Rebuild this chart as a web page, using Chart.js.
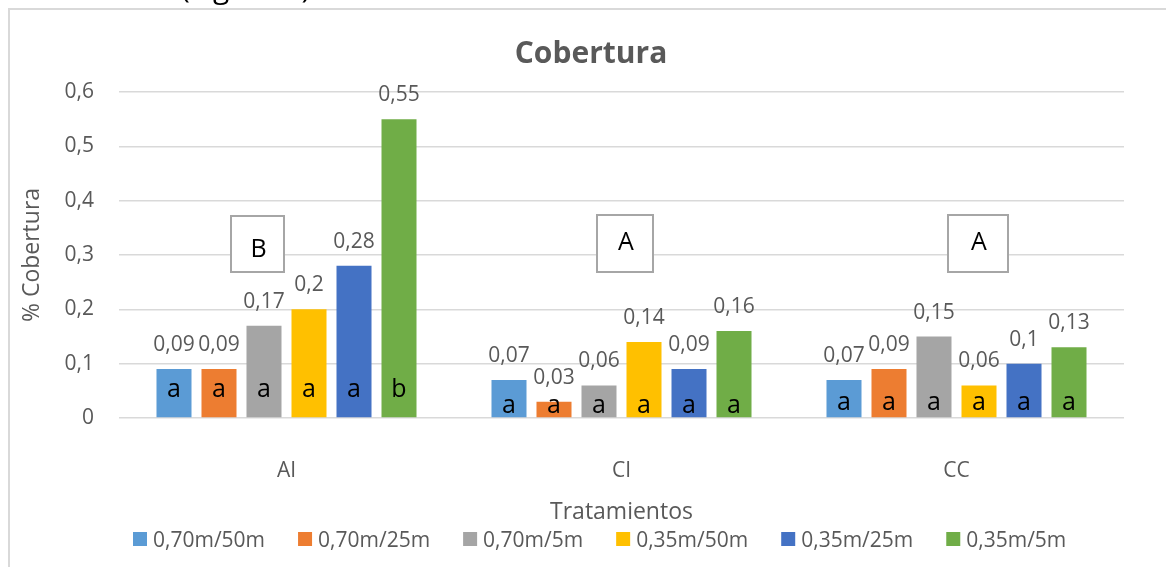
<!DOCTYPE html>
<html>
<head>
<meta charset="utf-8">
<script src="https://cdn.jsdelivr.net/npm/chart.js@4.4.1/dist/chart.umd.min.js"></script>
<style>
  html, body { margin: 0; padding: 0; background: #fff; overflow: hidden; }
  canvas { display: block; }
</style>
</head>
<body>
<canvas id="c" width="1166" height="567"></canvas>
<script>
// Treatments on the category axis
const categories = ['AI', 'CI', 'CC'];

// Series (spacing / distance combinations)
const seriesNames = ['0,70m/50m', '0,70m/25m', '0,70m/5m', '0,35m/50m', '0,35m/25m', '0,35m/5m'];
const seriesColors = ['#5B9BD5', '#ED7D31', '#A5A5A5', '#FFC000', '#4472C4', '#70AD47'];

// Coverage per series, one value per treatment
const v070m50m = [0.09, 0.07, 0.07];
const v070m25m = [0.09, 0.03, 0.09];
const v070m5m  = [0.17, 0.06, 0.15];
const v035m50m = [0.20, 0.14, 0.06];
const v035m25m = [0.28, 0.09, 0.10];
const v035m5m  = [0.55, 0.16, 0.13];

// Significance letters inside each bar
const l070m50m = ['a', 'a', 'a'];
const l070m25m = ['a', 'a', 'a'];
const l070m5m  = ['a', 'a', 'a'];
const l035m50m = ['a', 'a', 'a'];
const l035m25m = ['a', 'a', 'a'];
const l035m5m  = ['b', 'a', 'a'];

// Significance letter for each treatment
const groupLetters = ['B', 'A', 'A'];

// Y axis tick labels
const yTickLabels = ['0', '0,1', '0,2', '0,3', '0,4', '0,5', '0,6'];

const seriesValues = [v070m50m, v070m25m, v070m5m, v035m50m, v035m25m, v035m5m];
const seriesLetters = [l070m50m, l070m25m, l070m5m, l035m50m, l035m25m, l035m5m];

const GREY = '#595959';
const FONT = '"Open Sans", "Noto Sans", sans-serif';

// Letters inside bars, value labels above bars, and treatment letter boxes
const barTextPlugin = {
  id: 'barText',
  afterDatasetsDraw(chart, args, opts) {
    const ctx = chart.ctx;
    const xs = chart.scales.x;
    const ys = chart.scales.y;
    ctx.save();
    chart.data.datasets.forEach((ds, di) => {
      const meta = chart.getDatasetMeta(di);
      meta.data.forEach((bar, ci) => {
        const v = ds.data[ci];
        // value label
        ctx.font = '21px ' + FONT;
        ctx.fillStyle = GREY;
        ctx.textAlign = 'center';
        ctx.textBaseline = 'alphabetic';
        ctx.fillText(String(v).replace('.', ','), bar.x, bar.y - 18);
        // letter inside the bar
        ctx.font = '25px ' + FONT;
        ctx.fillStyle = '#000';
        ctx.fillText(seriesLetters[di][ci], bar.x, ys.getPixelForValue(opts.letterBase[ci]));
      });
    });
    // treatment letter boxes
    groupLetters.forEach((txt, ci) => {
      const b = opts.boxes[ci];
      const cx = xs.getPixelForValue(ci);
      const x0 = Math.round(cx + b.dx0), x1 = Math.round(cx + b.dx1);
      const y0 = Math.round(ys.getPixelForValue(b.top)), y1 = Math.round(ys.getPixelForValue(b.bottom));
      ctx.fillStyle = '#fff';
      ctx.fillRect(x0, y0, x1 - x0, y1 - y0);
      ctx.strokeStyle = '#a6a6a6';
      ctx.lineWidth = 2;
      ctx.strokeRect(x0, y0, x1 - x0, y1 - y0);
      ctx.font = '25px ' + FONT;
      ctx.fillStyle = '#000';
      ctx.textAlign = 'center';
      ctx.textBaseline = 'middle';
      ctx.fillText(txt, (x0 + x1) / 2 + 1, ys.getPixelForValue(b.text));
    });
    ctx.restore();
  }
};

// Frame, heading, caption fragment and legend
const framePlugin = {
  id: 'frame',
  afterDraw(chart) {
    const ctx = chart.ctx;
    ctx.save();
    ctx.strokeStyle = '#d9d9d9';
    ctx.lineWidth = 2;
    ctx.strokeRect(9, 9, 1200, 600);

    ctx.fillStyle = '#000';
    ctx.font = '30px ' + FONT;
    ctx.textAlign = 'left';
    ctx.textBaseline = 'alphabetic';
    ctx.fillText('(Figura 6)', 181, -2);

    ctx.fillStyle = GREY;
    ctx.font = 'bold 30px ' + FONT;
    ctx.textAlign = 'center';
    ctx.textBaseline = 'middle';
    ctx.fillText('Cobertura', 591, 54);

    ctx.font = '21px ' + FONT;
    ctx.textAlign = 'left';
    ctx.textBaseline = 'alphabetic';
    let x = 133;
    chart.data.datasets.forEach(ds => {
      ctx.fillStyle = ds.backgroundColor;
      ctx.fillRect(x, 532, 14, 14);
      ctx.fillStyle = GREY;
      ctx.fillText(ds.label, x + 20, 547);
      x += 20 + ctx.measureText(ds.label).width + 33;
    });
    ctx.restore();
  }
};

new Chart(document.getElementById('c'), {
  type: 'bar',
  data: {
    labels: categories,
    datasets: seriesNames.map((name, i) => ({
      label: name,
      data: seriesValues[i],
      backgroundColor: seriesColors[i],
      borderWidth: 0,
      categoryPercentage: 0.806,
      barPercentage: 0.778
    }))
  },
  options: {
    responsive: false,
    animation: false,
    devicePixelRatio: 1,
    layout: { padding: { top: 92, right: 42, bottom: 0, left: 0 } },
    plugins: {
      legend: { display: false },
      title: { display: false },
      tooltip: { enabled: false },
      barText: {
        letterBase: [0.0387, 0.0092, 0.0147],
        boxes: [
          { dx0: -55.5, dx1: -2.5, top: 0.3718, bottom: 0.2687, text: 0.309 },
          { dx0: -24.5, dx1: 31.5, top: 0.3737, bottom: 0.2687, text: 0.322 },
          { dx0: -8.5,  dx1: 51.5, top: 0.3737, bottom: 0.2687, text: 0.322 }
        ]
      }
    },
    scales: {
      x: {
        grid: { display: false },
        border: { display: false },
        ticks: { color: GREY, font: { family: FONT, size: 21 }, padding: 32 },
        title: {
          display: true, text: 'Tratamientos', color: GREY,
          font: { family: FONT, size: 23 }, padding: { top: 0, bottom: 41 }
        },
        afterFit(s) { s.height = 149; }
      },
      y: {
        min: 0, max: 0.6,
        grid: { color: '#d9d9d9', lineWidth: 1.5, drawTicks: false },
        border: { display: false },
        ticks: {
          stepSize: 0.1, color: GREY, font: { family: FONT, size: 21 }, padding: 25,
          callback: (v, i) => yTickLabels[i]
        },
        title: {
          display: true, text: '% Cobertura', color: GREY,
          font: { family: FONT, size: 23 }, padding: { top: 19, bottom: 0 }
        },
        afterFit(s) { s.width = 119; }
      }
    }
  },
  plugins: [barTextPlugin, framePlugin]
});
</script>
</body>
</html>
